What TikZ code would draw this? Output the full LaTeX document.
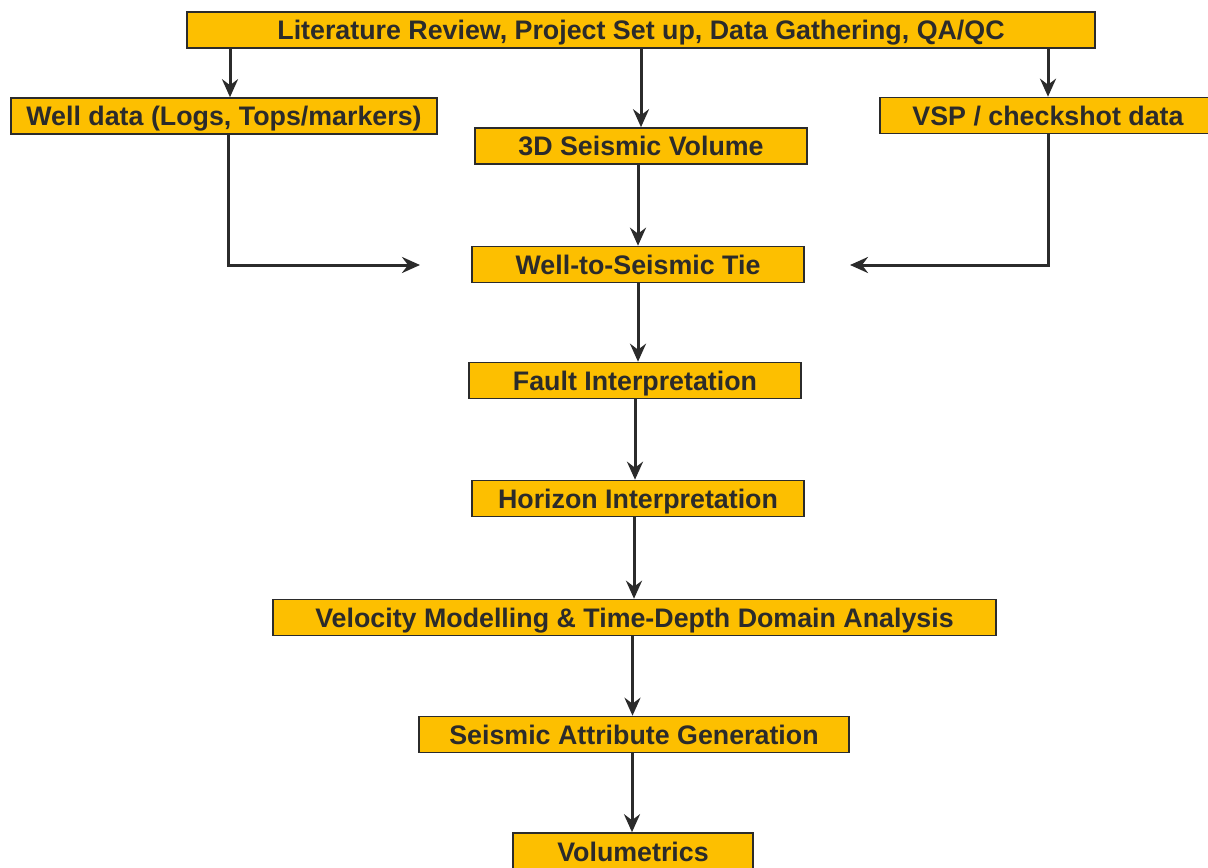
\documentclass[tikz,border=0pt]{standalone}
\usepackage{fontspec}
\setmainfont{Liberation Sans}
\usetikzlibrary{arrows.meta}
\definecolor{boxfill}{HTML}{FDBF00}
\definecolor{inkgray}{HTML}{2B2B2B}

\begin{document}
\begin{tikzpicture}[x=0.5pt, y=-0.5pt,
    font=\fontsize{13.4}{16}\selectfont\bfseries, text=inkgray,
    stage/.style={rectangle, draw=inkgray, line width=0.8pt, fill=boxfill,
        minimum height=18pt, inner sep=0pt, text height=9.6pt, text depth=-0.6pt},
    arr/.style={draw=inkgray, line width=1.5pt,
        -{Stealth[length=9pt, width=8pt, inset=3pt]}}]
        \useasboundingbox (0,0) rectangle (1208,867);
        \node(top) at (641,30) [stage, minimum width=454pt] {Literature Review, Project Set up, Data Gathering, QA/QC};
        \node(well) at (224,116) [stage, minimum width=213pt] {Well data (Logs, Tops/markers)};
        \node(seis) at (641,146) [stage, minimum width=166pt] {3D Seismic Volume};
        \node(vsp) at (1048,115.5) [stage, minimum width=168pt] {VSP / checkshot data};
        \draw [arr] ([xshift=3pt]top.south -| well.north) -- ([xshift=3pt]well.north);
        \draw [arr] (top.south -| seis.north) -- (seis.north);
        \draw [arr] (top.south -| vsp.north) -- (vsp.north);
        \node(tie) at (638,264.5) [stage, minimum width=166pt] {Well-to-Seismic Tie};
        \coordinate(tieL) at (420,265);
        \coordinate(tieR) at (850,265);
        \draw [arr] ([xshift=2pt]well.south) |- (tieL);
        \draw [arr] (vsp.south) |- (tieR);
        \draw [arr] (seis.south -| tie.north) -- (tie.north);
        \node(fault) at (635,380.5) [stage, minimum width=166pt] {Fault Interpretation};
        \node(horizon) at (638,498.5) [stage, minimum width=166pt] {Horizon Interpretation};
        \node(velocity) at (634.5,617.5) [stage, minimum width=361.5pt] {Velocity Modelling \& Time-Depth Domain Analysis};
        \node(attrib) at (634,734.5) [stage, minimum width=215pt] {Seismic Attribute Generation};
        \node(volum) at (633,851.5) [stage, minimum width=120pt, minimum height=18.5pt] {Volumetrics};
        \draw [arr] (tie.south) -- (tie.south |- fault.north);
        \draw [arr] (fault.south) -- (fault.south |- horizon.north);
        \draw [arr] ([xshift=-2pt]horizon.south) -- ([xshift=-2pt]horizon.south |- velocity.north);
        \draw [arr] ([xshift=-1pt]velocity.south) -- ([xshift=-1pt]velocity.south |- attrib.north);
        \draw [arr] ([xshift=-1pt]attrib.south) -- ([xshift=-1pt]attrib.south |- volum.north);
    \end{tikzpicture}
\end{document}
